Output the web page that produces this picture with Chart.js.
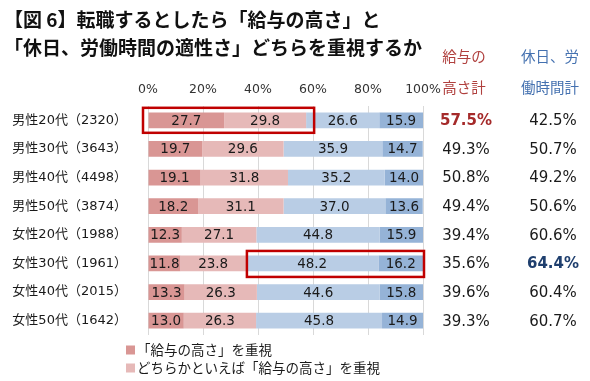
<!DOCTYPE html>
<html><head><meta charset="utf-8">
<script src="https://cdn.jsdelivr.net/npm/chart.js@4.4.1/dist/chart.umd.min.js"></script>
<style>
html,body{margin:0;padding:0;background:#fff;}
#wrap{position:relative;width:590px;height:381px;overflow:hidden;background:#fff;}
#c{position:absolute;left:0;top:0;}
#title{position:absolute;left:4px;top:5px;font-family:"Noto Sans CJK JP","Noto Sans CJK SC",sans-serif;font-weight:bold;font-size:19px;line-height:28px;color:#111;white-space:nowrap;}
</style></head><body>
<div id="wrap"><canvas id="c" width="590" height="381"></canvas>
<div id="title">【図 6】転職するとしたら「給与の高さ」と<br>「休日、労働時間の適性さ」どちらを重視するか</div></div>
<script>
const categories = ["男性20代（2320）","男性30代（3643）","男性40代（4498）","男性50代（3874）","女性20代（1988）","女性30代（1961）","女性40代（2015）","女性50代（1642）"];
const salaryStrong = [27.7,19.7,19.1,18.2,12.3,11.8,13.3,13.0];
const salaryWeak   = [29.8,29.6,31.8,31.1,27.1,23.8,26.3,26.3];
const holidayWeak  = [26.6,35.9,35.2,37.0,44.8,48.2,44.6,45.8];
const holidayStrong= [15.9,14.7,14.0,13.6,15.9,16.2,15.8,14.9];
const salaryTotal  = ["57.5%","49.3%","50.8%","49.4%","39.4%","35.6%","39.6%","39.3%"];
const holidayTotal = ["42.5%","50.7%","49.2%","50.6%","60.6%","64.4%","60.4%","60.7%"];
const xTicks = [0,20,40,60,80,100];
const seriesNames = ["「給与の高さ」を重視","どちらかといえば「給与の高さ」を重視","どちらかといえば「休日、労働時間の適性さ」を重視","「休日、労働時間の適性さ」を重視"];
const seriesColors = ["#d99694","#e6b9b8","#b9cde5","#95b3d7"];
const salaryHeader = ["給与の","高さ計"];
const holidayHeader = ["休日、労","働時間計"];

const FONT = "'DejaVu Sans','Noto Sans CJK JP',sans-serif";
Chart.defaults.font.family = FONT;

const seriesData = [salaryStrong, salaryWeak, holidayWeak, holidayStrong];

const decor = {
  id:'decor',
  afterDatasetsDraw(chart){
    const ctx = chart.ctx, xs = chart.scales.x, ys = chart.scales.y;
    ctx.save();
    ctx.font = "13.5px " + FONT;
    ctx.fillStyle = "#1a1a1a";
    ctx.textAlign = "center"; ctx.textBaseline = "middle";
    chart.data.datasets.forEach((ds, di) => {
      chart.getDatasetMeta(di).data.forEach((el, i) => {
        const v = ds.data[i];
        ctx.fillText(v.toFixed(1), (el.x + el.base)/2, el.y + 1);
      });
    });
    const cxS = 466, cxH = 553;
    categories.forEach((c, i) => {
      const y = ys.getPixelForValue(i) + 1;
      ctx.font = (i === 0 ? "bold " : "") + "15px " + FONT;
      ctx.fillStyle = i === 0 ? "#a52a2a" : "#1a1a1a";
      ctx.fillText(salaryTotal[i], cxS, y);
      ctx.font = (i === 5 ? "bold " : "") + "15px " + FONT;
      ctx.fillStyle = i === 5 ? "#1f3f6e" : "#1a1a1a";
      ctx.fillText(holidayTotal[i], cxH, y);
    });
    ctx.font = "14.5px " + FONT;
    ctx.fillStyle = "#b0403e";
    ctx.fillText(salaryHeader[0], cxS - 2, 58);
    ctx.fillText(salaryHeader[1], cxS - 2, 89);
    ctx.fillStyle = "#4471b0";
    ctx.fillText(holidayHeader[0], cxH - 3, 58);
    ctx.fillText(holidayHeader[1], cxH - 3, 89);
    ctx.strokeStyle = "#c00000"; ctx.lineWidth = 2.5;
    const y0 = ys.getPixelForValue(0), y5 = ys.getPixelForValue(5);
    const b1x0 = xs.getPixelForValue(0) - 5, b1x1 = xs.getPixelForValue(salaryStrong[0] + salaryWeak[0]) + 8;
    ctx.strokeRect(b1x0, y0 - 12.5, b1x1 - b1x0, 25);
    const b2x0 = xs.getPixelForValue(salaryStrong[5] + salaryWeak[5]) + 1, b2x1 = xs.getPixelForValue(100) + 1;
    ctx.strokeRect(b2x0, y5 - 12.5, b2x1 - b2x0, 26);
    ctx.textAlign = "left";
    ctx.font = "13.5px " + FONT;
    [0,1].forEach((k) => {
      const ly = 350 + k * 18;
      ctx.fillStyle = seriesColors[k];
      ctx.fillRect(126, ly - 4.5, 9, 9);
      ctx.fillStyle = "#1a1a1a";
      ctx.fillText(seriesNames[k], 137, ly + 1);
    });
    ctx.restore();
  }
};

new Chart(document.getElementById('c'), {
  type:'bar',
  data:{
    labels: categories,
    datasets: seriesData.map((d, i) => ({
      label: seriesNames[i], data: d, backgroundColor: seriesColors[i],
      borderWidth: 0, barPercentage: 0.55, categoryPercentage: 1.0
    }))
  },
  options:{
    indexAxis:'y', responsive:false, animation:false,
    layout:{padding:{left:0, right:167, top:0, bottom:46}},
    plugins:{legend:{display:false}, tooltip:{enabled:false}},
    scales:{
      x:{
        position:'top', stacked:true, min:0, max:100,
        afterBuildTicks(s){ s.ticks = xTicks.map(v => ({value:v})); },
        afterFit(s){ s.height = 106; },
        ticks:{callback:v => v + '%', color:'#333', font:{size:12.5}, padding:9, maxRotation:0},
        grid:{color:'#d9d9d9', drawTicks:false, lineWidth:1},
        border:{display:false}
      },
      y:{
        stacked:true,
        afterFit(s){ s.width = 148; },
        ticks:{color:'#1a1a1a', font:{size:13}, padding:0},
        grid:{display:true, color:'rgba(0,0,0,0)', drawOnChartArea:false, drawTicks:true, tickLength:21},
        border:{display:false}
      }
    }
  },
  plugins:[decor]
});
</script>
</body></html>
